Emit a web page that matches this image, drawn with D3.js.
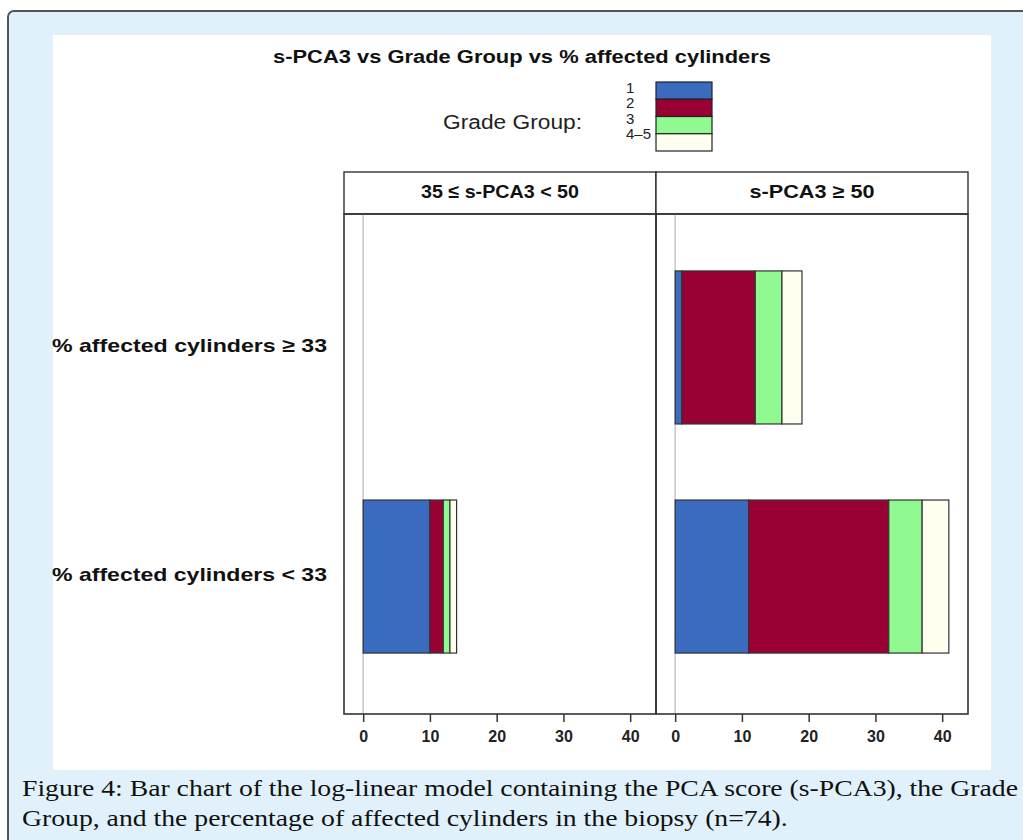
<!DOCTYPE html>
<html>
<head>
<meta charset="utf-8">
<script src="https://cdn.jsdelivr.net/npm/d3@7"></script>
<style>
  body { margin: 0; background: #fff; }
  svg { display: block; }
</style>
</head>
<body>
<div id="chart"></div>
<script>
// Page size
const width = 1023;
const height = 840;

// Categories
const gradeLabels = ["1", "2", "3", "4\u20135"];
const gradeColors = ["#3a6bbf", "#990033", "#90f98f", "#fffff0"];
const panelLabels = ["35 \u2264 s-PCA3 < 50", "s-PCA3 \u2265 50"];
const rowLabels = ["% affected cylinders \u2265 33", "% affected cylinders < 33"];
const xTicks = [0, 10, 20, 30, 40];

// Counts per grade group (1, 2, 3, 4-5) for each panel / row
const lowPca_ge33 = [0, 0, 0, 0];
const lowPca_lt33 = [10, 2, 1, 1];
const highPca_ge33 = [1, 11, 4, 3];
const highPca_lt33 = [11, 21, 5, 4];

const cells = [
    { panel: 0, row: 0, counts: lowPca_ge33 },
    { panel: 0, row: 1, counts: lowPca_lt33 },
    { panel: 1, row: 0, counts: highPca_ge33 },
    { panel: 1, row: 1, counts: highPca_lt33 }
];

const captionLines = [
    "Figure 4: Bar chart of the log-linear model containing the PCA score (s-PCA3), the Grade",
    "Group, and the percentage of affected cylinders in the biopsy (n=74)."
];

const svg = d3.select("#chart").append("svg")
    .attr("width", width)
    .attr("height", height);

// Light blue figure frame
svg.append("rect")
    .attr("x", 8).attr("y", 11)
    .attr("width", 1060).attr("height", 880)
    .attr("rx", 6)
    .attr("fill", "#e0f1fb")
    .attr("stroke", "#555")
    .attr("stroke-width", 2);

// White picture area
svg.append("rect")
    .attr("x", 53).attr("y", 35)
    .attr("width", 938).attr("height", 735)
    .attr("fill", "#fff");

// Title
svg.append("text")
    .attr("x", 522).attr("y", 63)
    .attr("text-anchor", "middle")
    .attr("textLength", 498)
    .attr("lengthAdjust", "spacingAndGlyphs")
    .style("font", "bold 18px 'Liberation Sans', Arial, sans-serif")
    .style("fill", "#111")
    .text("s-PCA3 vs Grade Group vs % affected cylinders");

// Legend
const legendY = d3.scaleBand().domain(gradeLabels).range([82, 151]);

svg.append("text")
    .attr("x", 582).attr("y", 129)
    .attr("text-anchor", "end")
    .attr("textLength", 139)
    .attr("lengthAdjust", "spacingAndGlyphs")
    .style("font", "20px 'Liberation Sans', Arial, sans-serif")
    .style("fill", "#222")
    .text("Grade Group:");

svg.append("g").selectAll("text")
    .data(gradeLabels)
    .enter().append("text")
    .attr("x", 626)
    .attr("y", (d, i) => 93 + i * 15.4)
    .style("font", "15px 'Liberation Sans', Arial, sans-serif")
    .style("fill", "#222")
    .text(d => d);

svg.append("g").selectAll("rect")
    .data(gradeLabels)
    .enter().append("rect")
    .attr("x", 656)
    .attr("y", d => legendY(d))
    .attr("width", 56)
    .attr("height", legendY.bandwidth())
    .attr("fill", (d, i) => gradeColors[i])
    .attr("stroke", "#222")
    .attr("stroke-width", 1.2);

// Panels layout
const panelX = d3.scaleBand().domain([0, 1]).range([344, 968]);
const panelTop = 214, panelBottom = 714;
const stripTop = 172;
const stripTextWidth = [158, 125];

const rowY = d3.scalePoint().domain([0, 1]).range([panelTop - 4, panelBottom]).padding(0.6);
const barHeight = rowY.step() * 0.668;

const xScales = [0, 1].map(p =>
    d3.scaleLinear().domain([-2.87, 43.87]).range([panelX(p), panelX(p) + panelX.bandwidth()])
);

// Strips
const strip = svg.append("g").selectAll("g")
    .data(panelLabels)
    .enter().append("g");

strip.append("rect")
    .attr("x", (d, i) => panelX(i))
    .attr("y", stripTop)
    .attr("width", panelX.bandwidth())
    .attr("height", panelTop - stripTop)
    .attr("fill", "#fff")
    .attr("stroke", "#222")
    .attr("stroke-width", 1.3);

strip.append("text")
    .attr("x", (d, i) => panelX(i) + panelX.bandwidth() / 2)
    .attr("y", (stripTop + panelTop) / 2 - 2)
    .attr("dominant-baseline", "central")
    .attr("text-anchor", "middle")
    .attr("textLength", (d, i) => stripTextWidth[i])
    .attr("lengthAdjust", "spacingAndGlyphs")
    .style("font", "bold 19px 'Liberation Sans', Arial, sans-serif")
    .style("fill", "#111")
    .text(d => d);

// Zero reference lines
svg.append("g").selectAll("line")
    .data([0, 1])
    .enter().append("line")
    .attr("x1", p => xScales[p](0))
    .attr("x2", p => xScales[p](0))
    .attr("y1", panelTop)
    .attr("y2", panelBottom)
    .attr("stroke", "#c8c8c8")
    .attr("stroke-width", 1.5);

// Stacked bars
cells.forEach(c => {
    const x = xScales[c.panel];
    let start = 0;
    const segs = c.counts.map((v, i) => {
        const s = { x0: start, x1: start + v, grade: i };
        start += v;
        return s;
    }).filter(s => s.x1 > s.x0);

    svg.append("g").selectAll("rect")
        .data(segs)
        .enter().append("rect")
        .attr("x", d => x(d.x0))
        .attr("y", rowY(c.row) - barHeight / 2)
        .attr("width", d => x(d.x1) - x(d.x0))
        .attr("height", barHeight)
        .attr("fill", d => gradeColors[d.grade])
        .attr("stroke", "#333")
        .attr("stroke-width", 1.2);
});

// Panel borders
svg.append("g").selectAll("rect")
    .data([0, 1])
    .enter().append("rect")
    .attr("x", p => panelX(p))
    .attr("y", panelTop)
    .attr("width", panelX.bandwidth())
    .attr("height", panelBottom - panelTop)
    .attr("fill", "none")
    .attr("stroke", "#333")
    .attr("stroke-width", 1.6);

// Row labels
svg.append("g").selectAll("text")
    .data(rowLabels)
    .enter().append("text")
    .attr("x", 327)
    .attr("y", (d, i) => rowY(i) - 2)
    .attr("text-anchor", "end")
    .attr("dominant-baseline", "central")
    .attr("textLength", 275)
    .attr("lengthAdjust", "spacingAndGlyphs")
    .style("font", "bold 19px 'Liberation Sans', Arial, sans-serif")
    .style("fill", "#111")
    .text(d => d);

// Bottom axes
[0, 1].forEach(p => {
    const axis = svg.append("g")
        .attr("transform", `translate(0,${panelBottom})`)
        .call(d3.axisBottom(xScales[p]).tickValues(xTicks).tickSize(8).tickPadding(9));
    axis.select(".domain").remove();
    axis.selectAll(".tick line").attr("stroke", "#333").attr("stroke-width", 1.5);
    axis.selectAll(".tick text")
        .style("font", "bold 16px 'Liberation Sans', Arial, sans-serif")
        .style("fill", "#222");
});

// Caption
const caption = svg.append("g").selectAll("text")
    .data(captionLines)
    .enter().append("text")
    .attr("x", 22)
    .attr("y", (d, i) => 796 + i * 30)
    .style("font", "24px 'Liberation Serif', serif")
    .style("fill", "#111")
    .text(d => d);

const natural = caption.nodes().map(n => n.getComputedTextLength());
const squeeze = 996 / natural[0];
caption
    .attr("textLength", (d, i) => natural[i] * squeeze)
    .attr("lengthAdjust", "spacingAndGlyphs");
</script>
</body>
</html>
